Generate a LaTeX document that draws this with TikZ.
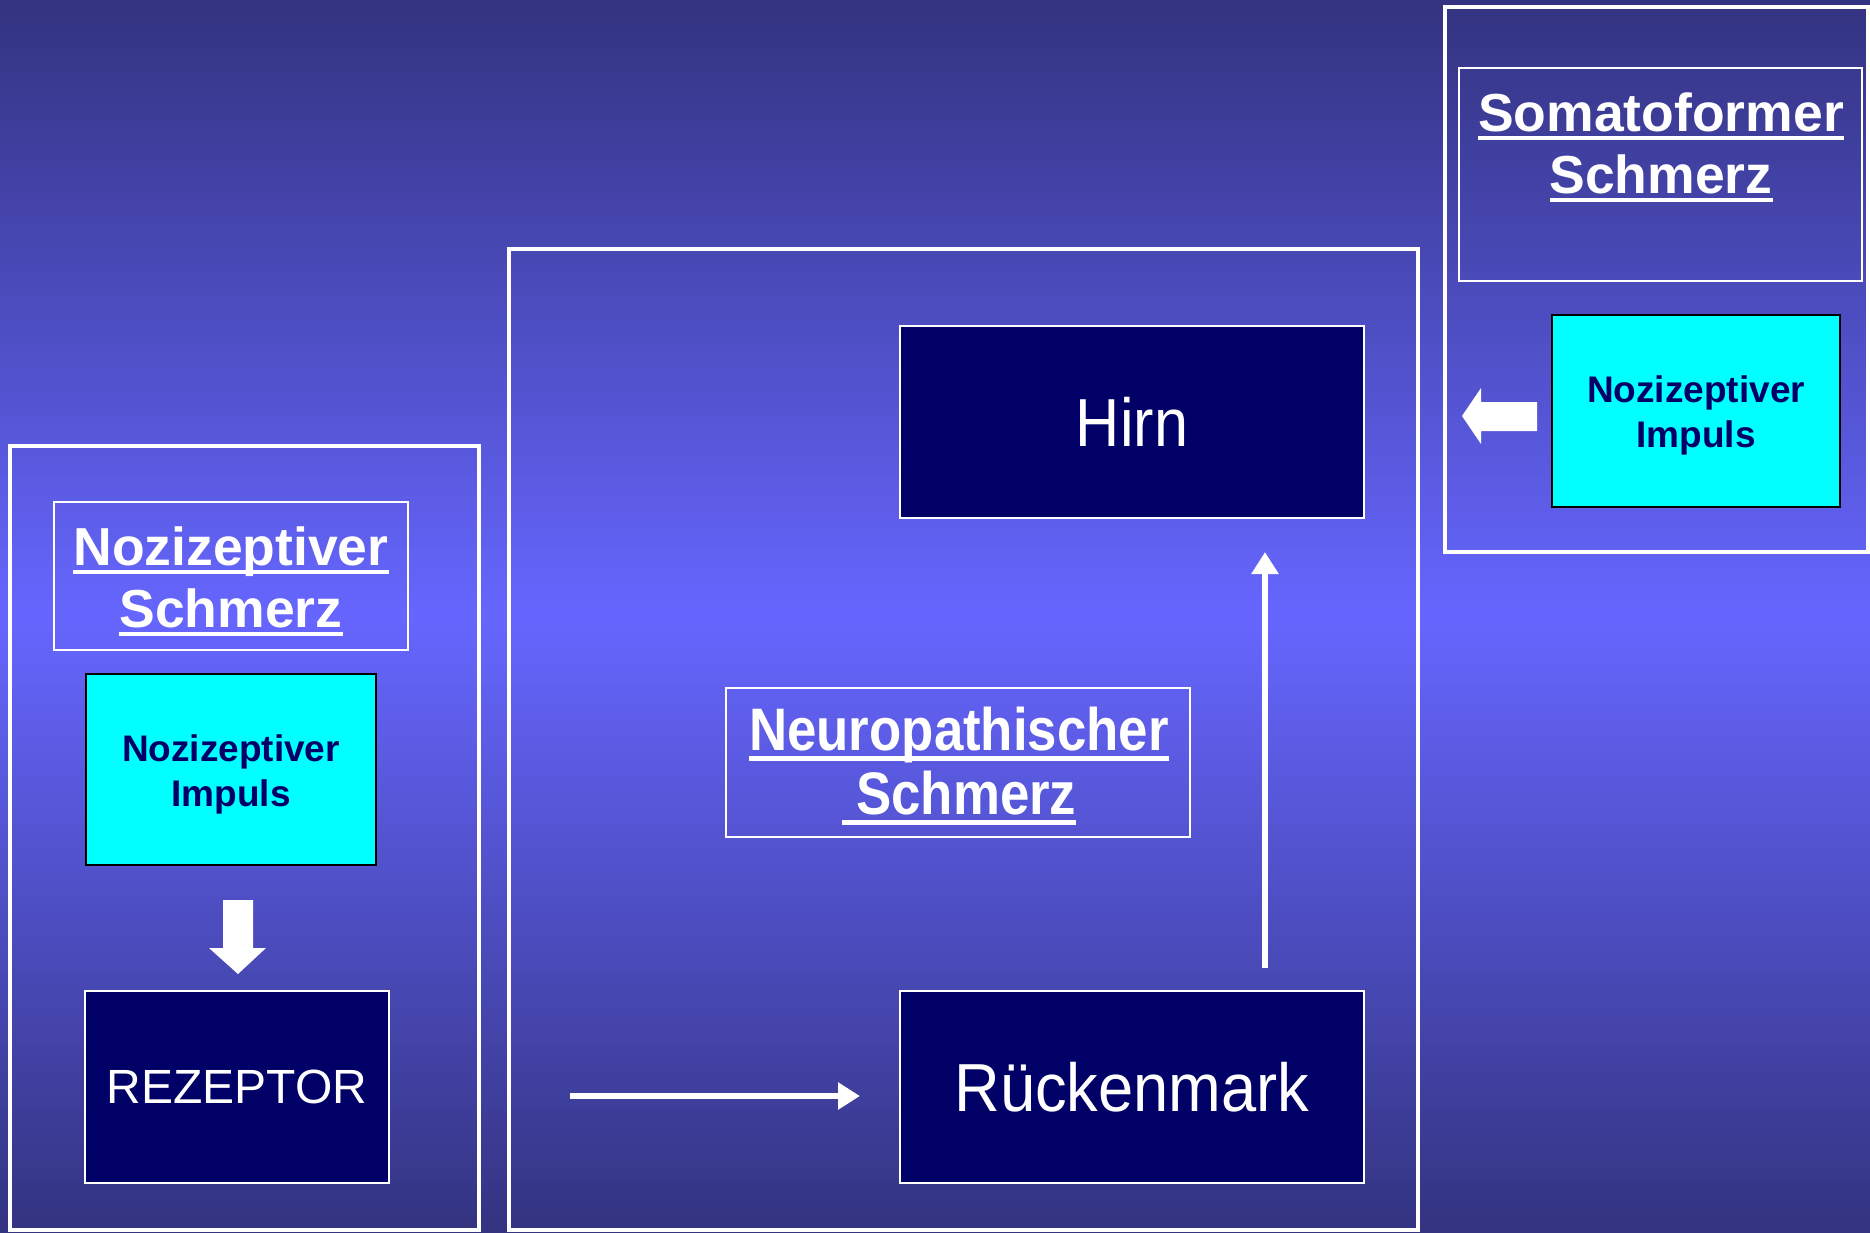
\documentclass[tikz,border=0pt]{standalone}
\usepackage{fontspec}
\setmainfont{Liberation Sans}
\newfontfamily\narrowfont[FakeStretch=0.9]{Liberation Sans}
\newfontfamily\narrowneuro[FakeStretch=0.88]{Liberation Sans}
\newfontfamily\narrowrueck[FakeStretch=0.93]{Liberation Sans}
\usetikzlibrary{arrows.meta}
\definecolor{bgdark}{RGB}{51,51,128}
\definecolor{bglight}{RGB}{102,102,255}
\definecolor{navy}{RGB}{0,0,102}
\definecolor{cyanbox}{RGB}{0,255,255}
\newlength\ulwidth
\newcommand\ulined[1]{\settowidth{\ulwidth}{#1}\rlap{\rule[-0.16em]{\ulwidth}{0.075em}}#1}
\begin{document}
\begin{tikzpicture}[x=1pt,y=-1pt,
  outerbox/.style={draw=white, line width=4pt, inner sep=0pt, outer sep=0pt},
  titlebox/.style={draw=white, line width=1.5pt, inner sep=0pt, outer sep=0pt},
  darkbox/.style={draw=white, line width=2pt, fill=navy, text=white, inner sep=0pt, outer sep=0pt},
  cyanbx/.style={draw=black, line width=2pt, fill=cyanbox, inner sep=0pt, outer sep=0pt},
  cyantext/.style={text=navy, align=center, inner sep=0pt, font=\bfseries\fontsize{37}{45}\selectfont},
  titletext/.style={text=white, align=center, inner sep=0pt, font=\bfseries\fontsize{53.5}{62}\selectfont},
  thinarrow/.style={draw=white, line width=6pt, -{Triangle[length=22pt,width=26pt]}},
  blockarrow/.style={fill=white}
]
\useasboundingbox (0,0) rectangle (1870,1233);
\shade[top color=bgdark, bottom color=bgdark, middle color=bglight] (0,0) rectangle (1870,1233);

% left group
\node[outerbox, minimum width=469pt, minimum height=784pt] (outerL) at (244.5,838) {};
\node[titlebox, minimum width=354pt, minimum height=148pt] (titleLbox) at (231,576) {};
\node[titletext] (titleL) at (231,581) {\ulined{Nozizeptiver}\\\ulined{Schmerz}};
\node[cyanbx, minimum width=290pt, minimum height=191pt] (impL) at (231,769.5) {};
\node[cyantext] (impLtext) at (231,774) {Nozizeptiver\\Impuls};
\node[darkbox, minimum width=304pt, minimum height=192pt, font=\fontsize{48}{56}\selectfont] (rez) at (237,1087) {REZEPTOR};
\fill[blockarrow] (223,900) -- (253,900) -- (253,948) -- (266,948) -- (238,974) -- (209,948) -- (223,948) -- cycle;

% middle group
\node[outerbox, minimum width=909pt, minimum height=981pt] (outerM) at (963.5,739.5) {};
\node[darkbox, minimum width=464pt, minimum height=192pt, font=\narrowfont\fontsize{68}{80}\selectfont] (hirn) at (1132,422) {Hirn};
\node[titlebox, minimum width=464pt, minimum height=149pt] (neuroBox) at (958,762.5) {};
\node[titletext, font=\narrowneuro\bfseries\fontsize{60}{64}\selectfont] (neuro) at (959,766) {\ulined{Neuropathischer}\\\ulined{\ Schmerz}};
\node[darkbox, minimum width=464pt, minimum height=192pt, font=\narrowrueck\fontsize{68}{80}\selectfont] (rueck) at (1132,1087) {Rückenmark};
\coordinate (hstart) at (570,1096);
\coordinate (htip) at (860,1096);
\draw[thinarrow] (hstart) -- (htip);
\coordinate (ustart) at (1265,968);
\coordinate (utip) at (1265,552);
\draw[thinarrow] (ustart) -- (utip);

% right group
\node[outerbox, minimum width=423pt, minimum height=545pt] (outerR) at (1656.5,279.5) {};
\node[titlebox, minimum width=403pt, minimum height=213pt] (somBox) at (1660.5,174.5) {};
\node[titletext] (som) at (1661,147.5) {\ulined{Somatoformer}\\\ulined{Schmerz}};
\node[cyanbx, minimum width=288pt, minimum height=192pt] (impR) at (1696,411) {};
\node[cyantext] (impRtext) at (1696,415) {Nozizeptiver\\Impuls};
\fill[blockarrow] (1537,402) -- (1481,402) -- (1481,388) -- (1462,416) -- (1481,444) -- (1481,431) -- (1537,431) -- cycle;
\end{tikzpicture}
\end{document}
